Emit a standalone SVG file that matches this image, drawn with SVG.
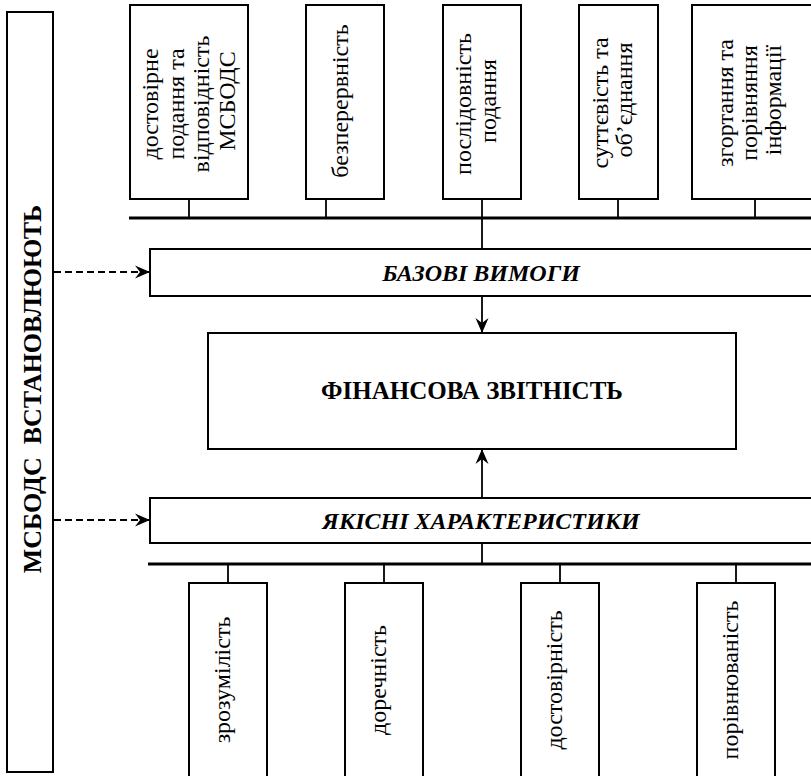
<svg xmlns="http://www.w3.org/2000/svg" width="811" height="776" viewBox="0 0 811 776">
<defs>
<style>
.box{fill:#fff;stroke:#000;stroke-width:2}
.bus{stroke:#000;stroke-width:3;fill:none}
.ln{stroke:#000;stroke-width:1.8;fill:none}
.dash{stroke:#000;stroke-width:2;fill:none;stroke-dasharray:7 4}
.t{font-family:"Liberation Serif","Times New Roman",serif;font-size:24px;fill:#000;text-anchor:middle}
.b{font-weight:bold}
.bi{font-weight:bold;font-style:italic}
</style>
<marker id="ah" viewBox="-16 -8 17 16" refX="0" refY="0" markerWidth="17" markerHeight="16" markerUnits="userSpaceOnUse" orient="auto">
<path d="M0,0 L-15,-6.5 L-10,0 L-15,6.5 Z" fill="#000"/>
</marker>
</defs>
<rect width="811" height="776" fill="#fff"/>

<g id="connectors">
<line class="bus" x1="129" y1="218" x2="811" y2="218"/>
<line class="ln" x1="189" y1="199" x2="189" y2="218"/>
<line class="ln" x1="326" y1="199" x2="326" y2="218"/>
<line class="ln" x1="482" y1="199" x2="482" y2="249"/>
<line class="ln" x1="618" y1="199" x2="618" y2="218"/>
<line class="ln" x1="755" y1="199" x2="755" y2="218"/>
<line class="ln" x1="482" y1="296" x2="482" y2="333" marker-end="url(#ah)"/>
<line class="ln" x1="482" y1="498" x2="482" y2="449" marker-end="url(#ah)"/>
<line class="dash" x1="54" y1="272" x2="150" y2="272" marker-end="url(#ah)"/>
<line class="dash" x1="54" y1="520" x2="150" y2="520" marker-end="url(#ah)"/>
<line class="ln" x1="482" y1="543" x2="482" y2="564"/>
<line class="bus" x1="148" y1="564" x2="811" y2="564"/>
<line class="ln" x1="228" y1="564" x2="228" y2="583"/>
<line class="ln" x1="384" y1="564" x2="384" y2="583"/>
<line class="ln" x1="560" y1="564" x2="560" y2="583"/>
<line class="ln" x1="736" y1="564" x2="736" y2="583"/>
</g>

<g id="msbods">
<rect class="box" x="7" y="12" width="46" height="760"/>
<text class="t b" style="font-size:26px" transform="translate(41,389) rotate(-90)" xml:space="preserve">МСБОДС  ВСТАНОВЛЮЮТЬ</text>
</g>

<g id="top1">
<rect class="box" x="130" y="5" width="118" height="194"/>
<text class="t" transform="translate(0,101) rotate(-90)">
<tspan x="0" y="158">достовірне</tspan>
<tspan x="0" y="184">подання та</tspan>
<tspan x="0" y="209">відповідність</tspan>
<tspan x="0" y="235">МСБОДС</tspan>
</text>
</g>

<g id="top2">
<rect class="box" x="306" y="5" width="78" height="194"/>
<text class="t" transform="translate(0,101) rotate(-90)"><tspan x="0" y="348">безперервність</tspan></text>
</g>

<g id="top3">
<rect class="box" x="443" y="5" width="78" height="194"/>
<text class="t" transform="translate(0,101) rotate(-90)">
<tspan x="0" y="471">послідовність</tspan>
<tspan x="0" y="496">подання</tspan>
</text>
</g>

<g id="top4">
<rect class="box" x="579" y="5" width="79" height="194"/>
<text class="t" transform="translate(0,100) rotate(-90)">
<tspan x="0" y="608">суттєвість та</tspan>
<tspan x="0" y="632">об’єднання</tspan>
</text>
</g>

<g id="top5">
<rect class="box" x="692" y="5" width="122" height="194"/>
<text class="t" transform="translate(0,100) rotate(-90)">
<tspan x="0" y="733">згортання та</tspan>
<tspan x="0" y="757">порівняння</tspan>
<tspan x="0" y="781">інформації</tspan>
</text>
</g>

<g id="base">
<rect class="box" x="150" y="249" width="664" height="47"/>
<text class="t bi" x="481" y="281">БАЗОВІ ВИМОГИ</text>
</g>

<g id="fin">
<rect class="box" x="208" y="333" width="528" height="116"/>
<text class="t b" style="font-size:25px" x="472" y="399">ФІНАНСОВА ЗВІТНІСТЬ</text>
</g>

<g id="quality">
<rect class="box" x="150" y="498" width="664" height="45"/>
<text class="t bi" x="481" y="529">ЯКІСНІ ХАРАКТЕРИСТИКИ</text>
</g>

<g id="bot1">
<rect class="box" x="189" y="583" width="78" height="200"/>
<text class="t" transform="translate(230,680) rotate(-90)">зрозумілість</text>
</g>
<g id="bot2">
<rect class="box" x="345" y="583" width="78" height="200"/>
<text class="t" transform="translate(386,680) rotate(-90)">доречність</text>
</g>
<g id="bot3">
<rect class="box" x="521" y="583" width="78" height="200"/>
<text class="t" transform="translate(562,680) rotate(-90)">достовірність</text>
</g>
<g id="bot4">
<rect class="box" x="697" y="583" width="78" height="200"/>
<text class="t" transform="translate(738,680) rotate(-90)">порівнюваність</text>
</g>
</svg>
